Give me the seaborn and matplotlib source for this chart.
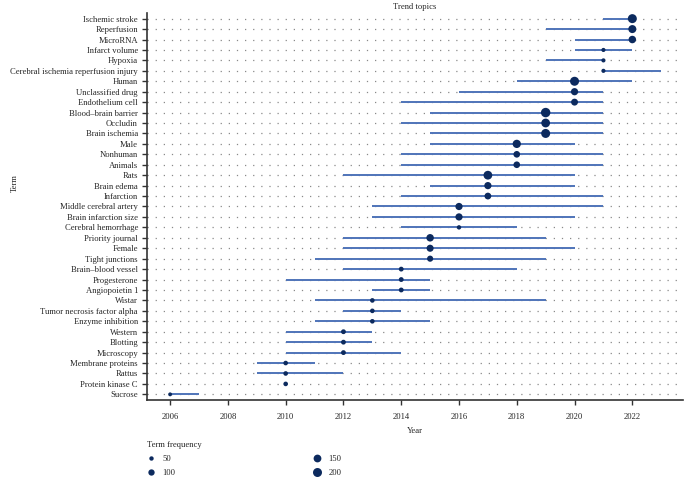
import pandas as pd
import numpy as np
import seaborn as sns
import matplotlib.pyplot as plt
from matplotlib.lines import Line2D

sns.set_style("white")
plt.rcParams["font.family"] = ["Liberation Serif", "DejaVu Serif"]

terms = [
    "Ischemic stroke", "Reperfusion", "MicroRNA", "Infarct volume", "Hypoxia",
    "Cerebral ischemia reperfusion injury", "Human", "Unclassified drug",
    "Endothelium cell", "Blood\u2013brain barrier", "Occludin", "Brain ischemia",
    "Male", "Nonhuman", "Animals", "Rats", "Brain edema", "Infarction",
    "Middle cerebral artery", "Brain infarction size", "Cerebral hemorrhage",
    "Priority journal", "Female", "Tight junctions", "Brain\u2013blood vessel",
    "Progesterone", "Angiopoietin 1", "Wistar", "Tumor necrosis factor alpha",
    "Enzyme inhibition", "Western", "Blotting", "Microscopy",
    "Membrane proteins", "Rattus", "Protein kinase C", "Sucrose",
]
year_q1 = [2021, 2019, 2020, 2020, 2019, 2021, 2018, 2016, 2014, 2015, 2014,
           2015, 2015, 2014, 2014, 2012, 2015, 2014, 2013, 2013, 2014, 2012,
           2012, 2011, 2012, 2010, 2013, 2011, 2012, 2011, 2010, 2010, 2010,
           2009, 2009, 2010, 2006]
year_med = [2022, 2022, 2022, 2021, 2021, 2021, 2020, 2020, 2020, 2019, 2019,
            2019, 2018, 2018, 2018, 2017, 2017, 2017, 2016, 2016, 2016, 2015,
            2015, 2015, 2014, 2014, 2014, 2013, 2013, 2013, 2012, 2012, 2012,
            2010, 2010, 2010, 2006]
year_q3 = [2022, 2022, 2022, 2022, 2021, 2023, 2022, 2021, 2021, 2021, 2021,
           2021, 2020, 2021, 2021, 2020, 2020, 2021, 2021, 2020, 2018, 2019,
           2020, 2019, 2018, 2015, 2015, 2019, 2014, 2015, 2013, 2013, 2014,
           2011, 2012, 2010, 2007]
freq = [200, 160, 140, 45, 45, 45, 200, 130, 120, 220, 190, 200, 170, 110,
        110, 190, 130, 115, 130, 130, 50, 140, 125, 95, 60, 60, 60, 55, 55,
        55, 60, 60, 60, 55, 55, 55, 40]

df = pd.DataFrame({"Term": terms, "q1": year_q1, "Year": year_med,
                   "q3": year_q3, "freq": freq})

dot_col = "#0c2a5e"
line_col = "#4f74b9"
fs = 6.2


def area(v):
    return 10 + (v - 50) * 32 / 150.0


fig = plt.figure(figsize=(6.87, 4.78), dpi=100)
ax = fig.add_axes([0.214, 0.163, 0.78, 0.81])

sns.scatterplot(data=df, x="Year", y="Term", size="freq",
                sizes={v: area(v) for v in df["freq"].unique()},
                color=dot_col, linewidth=0, legend=False, zorder=3, ax=ax)
ax.hlines(df["Term"], df["q1"], df["q3"], color=line_col, lw=1.4, zorder=2)

ax.set_ylim(len(terms) - 0.45, -0.55)
ax.set_xlim(2005.2, 2023.75)
ax.set_xticks(range(2006, 2023, 2))
ax.grid(axis="y", linestyle=(0, (1, 5.5)), color="#8a8a8a", lw=0.9)
ax.grid(axis="x", visible=False)
ax.set_axisbelow(True)

for s in ("top", "right"):
    ax.spines[s].set_visible(False)
for s in ("left", "bottom"):
    ax.spines[s].set_color("#333333")
    ax.spines[s].set_linewidth(1.2)
ax.tick_params(axis="both", length=3.5, width=1, color="#333333",
               labelsize=fs, direction="out", left=True, bottom=True, pad=3)
ax.tick_params(axis="x", pad=6)

ax.set_title("Trend topics", fontsize=fs, pad=3)
ax.set_xlabel("Year", fontsize=fs, labelpad=4)
ax.set_ylabel("Term", fontsize=fs)
ax.yaxis.set_label_coords(-0.24, 0.56)

handles = [Line2D([], [], marker="o", ls="", color=dot_col, mec="none",
                  markersize=np.sqrt(area(v))) for v in (50, 100, 150, 200)]
leg = fig.legend(handles, ["50", "100", "150", "200"], title="Term frequency",
                 ncol=2, frameon=False, fontsize=fs, title_fontsize=fs,
                 loc="upper left", bbox_to_anchor=(0.207, 0.087),
                 columnspacing=16, handletextpad=0.8, labelspacing=0.72,
                 alignment="left", borderpad=0, handlelength=1.0)

fig.savefig("out.png", dpi=100)
